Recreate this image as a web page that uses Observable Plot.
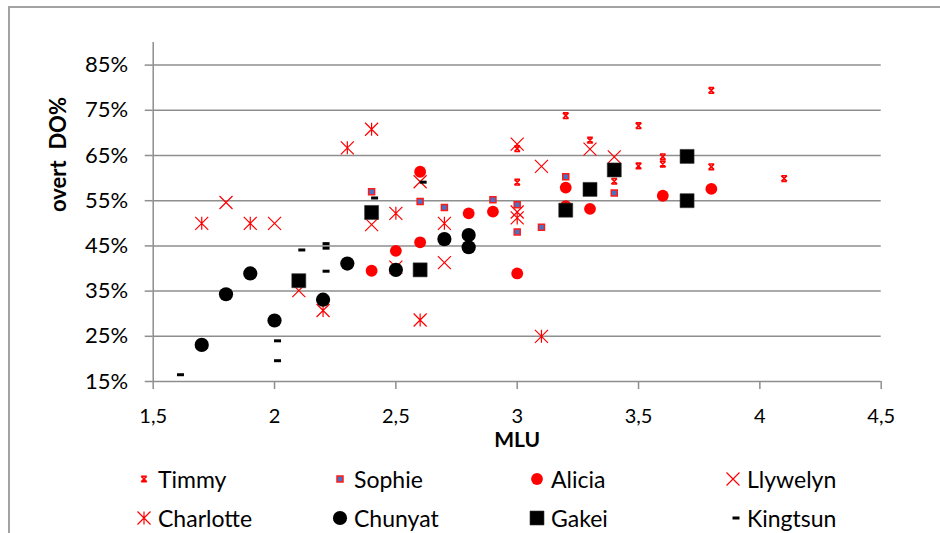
<!DOCTYPE html>
<html><head><meta charset="utf-8">
<script src="https://cdn.jsdelivr.net/npm/d3@7"></script>
<script src="https://cdn.jsdelivr.net/npm/@observablehq/plot@0.6"></script>
<style>
html,body{margin:0;padding:0;background:#fff;}
#wrap{position:relative;width:940px;height:533px;overflow:hidden;font-family:Lato,sans-serif;}
#frame{position:absolute;left:8px;top:6px;width:980px;height:580px;border-left:2px solid #a3a3a3;border-top:2px solid #a3a3a3;}
#chart{position:absolute;left:0;top:0;}
.leg{position:absolute;display:flex;align-items:center;height:30px;font-size:23px;color:#000;white-space:nowrap;}
.leg svg{flex:none;}
.leg span{margin-left:6px;}
</style></head>
<body><div id="wrap"><div id="frame"></div><div id="chart"></div><div id="legend"></div></div>
<script>
// ---- data (MLU, overt DO %) ----
const seriesNames = ["Timmy","Sophie","Alicia","Llywelyn","Charlotte","Chunyat","Gakei","Kingtsun"];
const timmyMLU = [3.0,3.0,3.2,3.3,3.4,3.5,3.5,3.6,3.6,3.8,3.8,4.1];
const timmyPct = [59.1,66.5,73.8,68.4,59.3,71.6,62.7,64.7,63.1,79.4,62.5,59.9];
const sophieMLU = [2.4,2.6,2.7,2.9,3.0,3.0,3.1,3.2,3.4];
const sophiePct = [57.0,54.8,53.5,55.2,54.1,48.1,49.1,60.3,56.7];
const aliciaMLU = [2.4,2.5,2.6,2.6,2.8,2.9,3.0,3.2,3.2,3.3,3.6,3.8];
const aliciaPct = [39.5,43.9,61.4,45.8,52.2,52.6,38.9,57.9,53.8,53.2,56.1,57.6];
const llywelynMLU = [1.8,2.0,2.1,2.4,2.5,2.6,2.7,3.0,3.0,3.1,3.3,3.4];
const llywelynPct = [54.6,50.0,35.1,49.7,40.3,59.2,41.3,67.5,52.5,62.6,66.4,64.7];
const charlotteMLU = [1.7,1.9,2.2,2.3,2.4,2.5,2.6,2.7,3.0,3.1];
const charlottePct = [50.0,50.0,30.7,66.7,70.8,52.2,28.6,50.0,51.2,25.0];
const chunyatMLU = [1.7,1.8,1.9,2.0,2.2,2.3,2.5,2.7,2.8,2.8];
const chunyatPct = [23.1,34.3,38.9,28.5,33.1,41.1,39.7,46.5,47.4,44.7];
const gakeiMLU = [2.1,2.4,2.6,3.2,3.3,3.4,3.7,3.7];
const gakeiPct = [37.3,52.4,39.7,52.9,57.5,61.8,64.8,55.0];
const kingtsunMLU = [1.6,2.0,2.0,2.1,2.2,2.2,2.2,2.4,2.6];
const kingtsunPct = [16.5,24.0,19.6,44.1,45.5,44.5,39.4,55.6,59.1];
const xTicks = [1.5,2,2.5,3,3.5,4,4.5];
const xTickLabels = ["1,5","2","2,5","3","3,5","4","4,5"];
const yTicks = [15,25,35,45,55,65,75,85];
const yTickLabels = ["15%","25%","35%","45%","55%","65%","75%","85%"];

// ---- marker shapes ----
const rad = s => Math.sqrt(s / Math.PI);
const crossSym = {draw(c, s){const r = rad(s); c.moveTo(-r,-r); c.lineTo(r,r); c.moveTo(-r,r); c.lineTo(r,-r);}};
const starSym = {draw(c, s){const r = rad(s); c.moveTo(-r,-r); c.lineTo(r,r); c.moveTo(-r,r); c.lineTo(r,-r); c.moveTo(0,-r); c.lineTo(0,r);}};
const hourSym = {draw(c, s){const r = rad(s); c.moveTo(-r,-r); c.lineTo(r,r); c.moveTo(-r,r); c.lineTo(r,-r); c.moveTo(-r,-r); c.lineTo(r,-r); c.moveTo(-r,r); c.lineTo(r,r);}};
const dashSym = {draw(c, s){c.rect(-0.5,-1.5,7,3);}};
const squareSym = {draw(c, s){const h = rad(s); c.rect(-h,-h,2*h,2*h);}};
const circleSym = {draw(c, s){const r = rad(s); c.moveTo(r,0); c.arc(0,0,r,0,2*Math.PI);}};

const styles = {
  Timmy:    {symbol: hourSym,   r: 2.8, fill: "none", stroke: "#ff0000", strokeWidth: 1.6},
  Sophie:   {symbol: squareSym, r: 3.0, fill: "#4a72c0", stroke: "#ff1a1a", strokeWidth: 1.5},
  Alicia:   {symbol: circleSym, r: 5.9, fill: "#ff0000", stroke: "none", strokeWidth: 0},
  Llywelyn: {symbol: crossSym,  r: 6.5, fill: "none", stroke: "#ff0000", strokeWidth: 1.2},
  Charlotte:{symbol: starSym,   r: 6.5, fill: "none", stroke: "#ff0000", strokeWidth: 1.2},
  Chunyat:  {symbol: circleSym, r: 7.1, fill: "#000", stroke: "none", strokeWidth: 0},
  Gakei:    {symbol: squareSym, r: 7.0, fill: "#000", stroke: "#333", strokeWidth: 0.6},
  Kingtsun: {symbol: dashSym,   r: 3.5, fill: "#000", stroke: "none", strokeWidth: 0}
};
const seriesData = {
  Timmy: [timmyMLU, timmyPct], Sophie: [sophieMLU, sophiePct], Alicia: [aliciaMLU, aliciaPct],
  Llywelyn: [llywelynMLU, llywelynPct], Charlotte: [charlotteMLU, charlottePct],
  Chunyat: [chunyatMLU, chunyatPct], Gakei: [gakeiMLU, gakeiPct], Kingtsun: [kingtsunMLU, kingtsunPct]
};
const tables = seriesNames.map(n => ({name: n, rows: seriesData[n][0].map((m, i) => ({mlu: m, pct: seriesData[n][1][i]}))}));

const grid = "#8e8e8e";
const chart = Plot.plot({
  width: 940, height: 458,
  marginLeft: 152.7, marginRight: 59.3, marginTop: 42, marginBottom: 77,
  x: {domain: [1.5, 4.5]},
  y: {domain: [15, 90]},
  style: {fontFamily: "Lato, sans-serif", fontSize: "22px", color: "#000", background: "transparent", overflow: "visible"},
  marks: [
    Plot.ruleY(yTicks, {stroke: grid, strokeWidth: 1.5}),
    Plot.ruleX([1.5], {y1: 15, y2: 90, stroke: grid, strokeWidth: 1.5}),
    Plot.axisY(yTicks, {tickSize: 8, tickPadding: 17, tickFormat: d => yTickLabels[yTicks.indexOf(d)], stroke: grid, strokeWidth: 1.5, label: null, fontSize: 22}),
    Plot.axisX(xTicks, {tickSize: 8, tickPadding: 19, tickFormat: d => xTickLabels[xTicks.indexOf(d)], stroke: grid, strokeWidth: 1.5, label: null, fontSize: 20}),
    ...tables.map(t => {
      const s = styles[t.name];
      return Plot.dot(t.rows, {x: "mlu", y: "pct", symbol: s.symbol, r: s.r, fill: s.fill, stroke: s.stroke, strokeWidth: s.strokeWidth});
    }),
    Plot.text(["MLU"], {text: d => d, frameAnchor: "bottom", dy: 65, fontWeight: "bold", fontSize: 21}),
    Plot.text(["overt\u00a0 DO%"], {text: d => d, frameAnchor: "left", dx: -94, rotate: -90, fontWeight: "bold", fontSize: 22})
  ]
});
document.getElementById("chart").appendChild(chart);

// ---- legend ----
const legCols = [144, 340, 537, 733];
const legRows = [479, 518];
const legend = document.getElementById("legend");
seriesNames.forEach((n, i) => {
  const s = styles[n];
  const cx = legCols[i % 4], cy = legRows[Math.floor(i / 4)];
  const div = document.createElement("div");
  div.className = "leg";
  div.style.left = (cx - 8) + "px";
  div.style.top = (cy - 15) + "px";
  const p = d3.path();
  s.symbol.draw(p, s.r * s.r * Math.PI);
  const svg = d3.create("svg").attr("width", 16).attr("height", 30);
  svg.append("path").attr("transform", "translate(8,15)").attr("d", p.toString())
    .attr("fill", s.fill).attr("stroke", s.stroke).attr("stroke-width", s.strokeWidth);
  div.appendChild(svg.node());
  const sp = document.createElement("span");
  sp.textContent = n;
  div.appendChild(sp);
  legend.appendChild(div);
});
</script>
</body></html>
